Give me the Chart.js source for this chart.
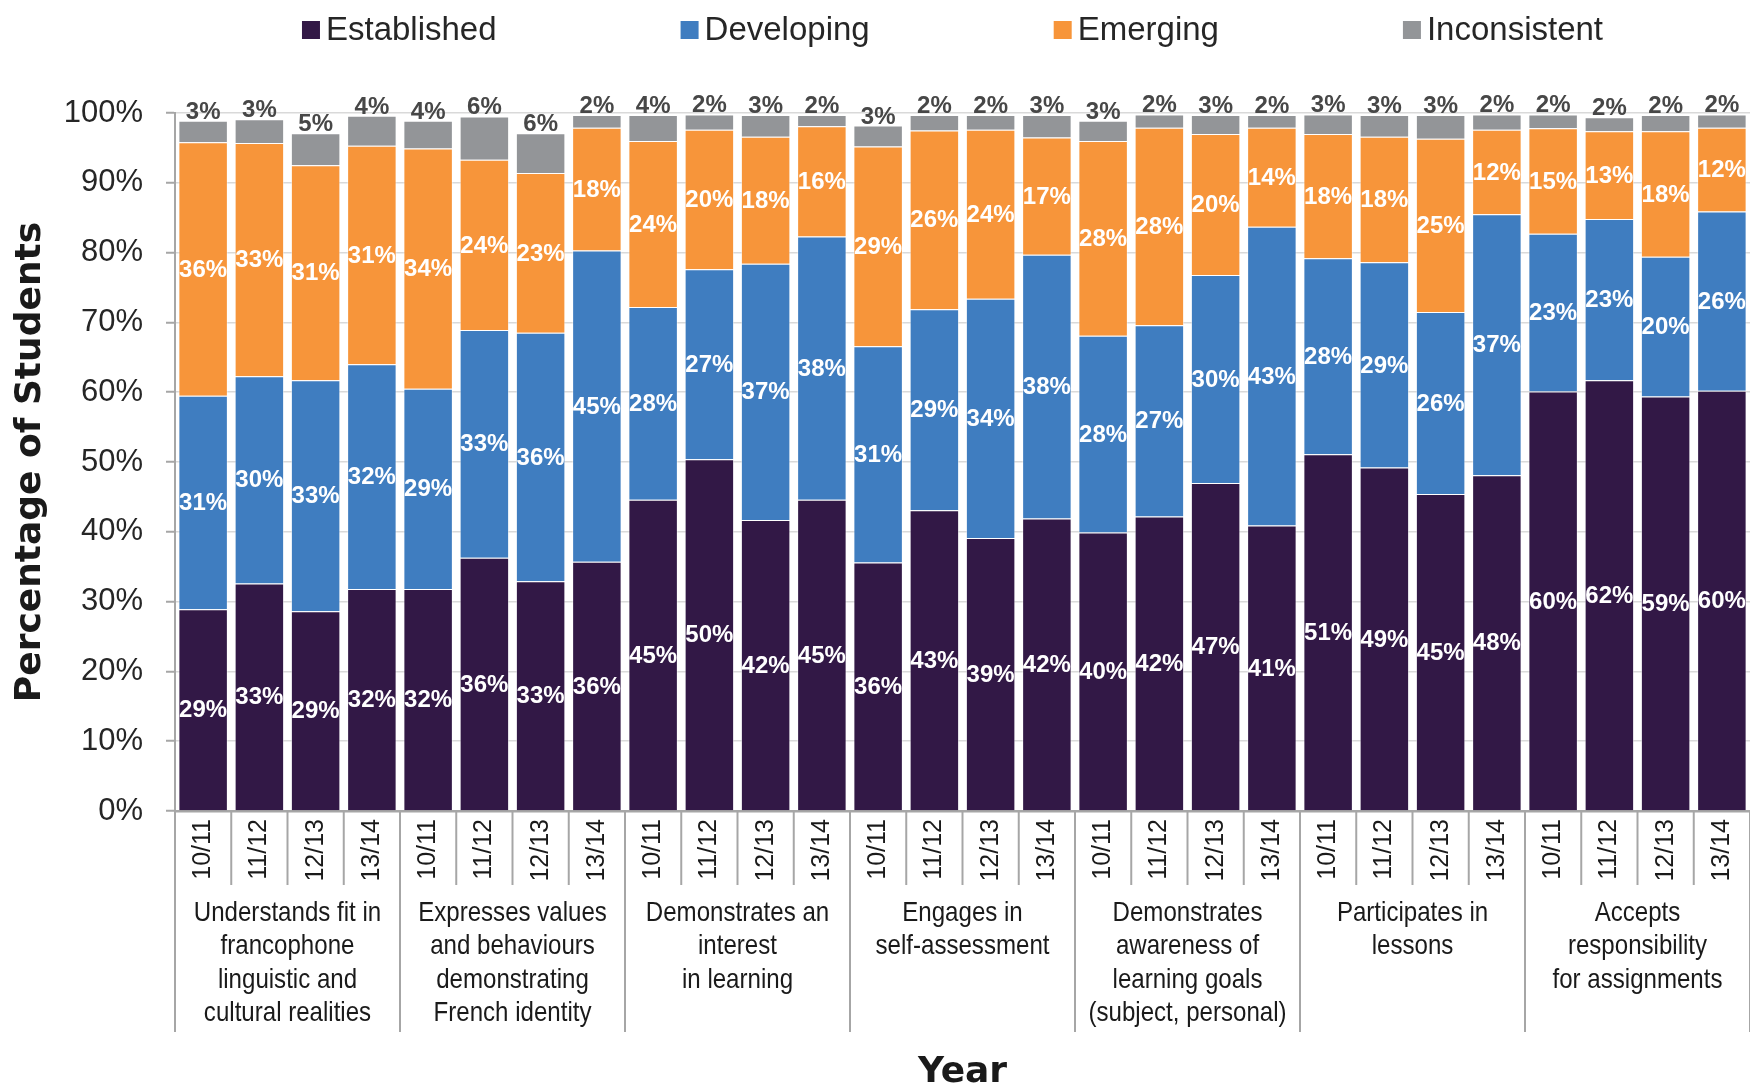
<!DOCTYPE html>
<html>
<head>
<meta charset="utf-8">
<script src="https://cdn.jsdelivr.net/npm/chart.js@4.4.0/dist/chart.umd.min.js"></script>
<style>
  html, body { margin: 0; padding: 0; background: #fff; }
  #wrap { width: 1750px; height: 1085px; }
</style>
</head>
<body>
<div id="wrap"><canvas id="chart" width="1750" height="1085"></canvas></div>
<script>
const years = ["10/11", "11/12", "12/13", "13/14"];
const groups = [
  ["Understands fit in", "francophone", "linguistic and", "cultural realities"],
  ["Expresses values", "and behaviours", "demonstrating", "French identity"],
  ["Demonstrates an", "interest", "in learning"],
  ["Engages in", "self-assessment"],
  ["Demonstrates", "awareness of", "learning goals", "(subject, personal)"],
  ["Participates in", "lessons"],
  ["Accepts", "responsibility", "for assignments"]
];
const seriesNames = ["Established", "Developing", "Emerging", "Inconsistent"];
const seriesColors = ["#321846", "#3f7dc0", "#f7953a", "#939598"];

// percentages, 4 years per group
const established = [28.9, 32.6, 28.6, 31.8, 31.8, 36.3, 32.9, 35.7, 44.6, 50.4, 41.7, 44.6, 35.6, 43.1,
  39.1, 41.9, 39.9, 42.2, 47.0, 40.9, 51.1, 49.2, 45.4, 48.1, 60.1, 61.7, 59.4, 60.2];
const developing = [30.6, 29.7, 33.1, 32.2, 28.7, 32.6, 35.6, 44.6, 27.6, 27.2, 36.7, 37.7, 31.0, 28.8,
  34.3, 37.8, 28.2, 27.4, 29.8, 42.8, 28.1, 29.4, 26.1, 37.4, 22.6, 23.1, 20.0, 25.7];
const emerging = [36.3, 33.4, 30.8, 31.3, 34.4, 24.4, 22.9, 17.6, 23.8, 20.0, 18.2, 15.8, 28.6, 25.6,
  24.2, 16.8, 27.9, 28.3, 20.2, 14.2, 17.8, 18.0, 24.8, 12.1, 15.1, 12.6, 18.0, 12.0];
const inconsistent = [3.1, 3.4, 4.6, 4.3, 4.0, 6.2, 5.7, 1.8, 3.7, 2.2, 3.1, 1.6, 3.0, 2.2,
  2.1, 3.2, 2.9, 1.9, 2.7, 1.8, 2.8, 3.1, 3.4, 2.2, 2.0, 2.0, 2.3, 1.9];
const yTicks = [0, 10, 20, 30, 40, 50, 60, 70, 80, 90, 100];

const labels = [];
groups.forEach(() => years.forEach(y => labels.push(y)));
const values = [established, developing, emerging, inconsistent];

const FONT = "'Liberation Sans', Arial, sans-serif";
const TITLE_FONT = "'DejaVu Sans', Verdana, sans-serif";

const valueLabels = {
  id: "valueLabels",
  afterDatasetsDraw(chart) {
    const ctx = chart.ctx;
    ctx.save();
    ctx.font = "bold 24px " + FONT;
    ctx.textAlign = "center";
    chart.data.datasets.forEach((ds, d) => {
      const meta = chart.getDatasetMeta(d);
      meta.data.forEach((el, i) => {
        const txt = Math.round(ds.data[i]) + "%";
        if (d < 3) {
          ctx.fillStyle = "#ffffff";
          ctx.textBaseline = "middle";
          ctx.fillText(txt, el.x, (el.y + el.base) / 2 + 1);
        } else {
          ctx.fillStyle = "#474747";
          ctx.textBaseline = "alphabetic";
          ctx.fillText(txt, el.x, el.y - 2);
        }
      });
    });
    ctx.restore();
  }
};

const groupAxis = {
  id: "groupAxis",
  afterDraw(chart) {
    const ctx = chart.ctx;
    const x = chart.scales.x;
    const bottom = chart.chartArea.bottom;
    const catW = x.getPixelForValue(1) - x.getPixelForValue(0);
    ctx.save();
    ctx.strokeStyle = "#a6a6a6";
    ctx.lineWidth = 2;
    for (let i = 0; i <= labels.length; i++) {
      const bx = x.getPixelForValue(Math.min(i, labels.length - 1)) + (i === labels.length ? catW / 2 : -catW / 2);
      const len = i % years.length === 0 ? 221 : 74;
      ctx.beginPath();
      ctx.moveTo(bx, bottom);
      ctx.lineTo(bx, bottom + len);
      ctx.stroke();
    }
    ctx.fillStyle = "#1a1a1a";
    ctx.font = "28px " + FONT;
    ctx.textAlign = "center";
    ctx.textBaseline = "middle";
    groups.forEach((lines, g) => {
      const cx = (x.getPixelForValue(g * 4) + x.getPixelForValue(g * 4 + 3)) / 2;
      lines.forEach((ln, k) => {
        ctx.save();
        ctx.translate(cx, bottom + 102 + k * 33.5);
        ctx.scale(0.86, 1);
        ctx.fillText(ln, 0, 0);
        ctx.restore();
      });
    });
    ctx.restore();
  }
};

const topLegend = {
  id: "topLegend",
  afterDraw(chart) {
    const ctx = chart.ctx;
    const box = 18, gap = 6, spacing = 184;
    ctx.save();
    ctx.font = "33px " + FONT;
    const widths = seriesNames.map(n => box + gap + ctx.measureText(n).width);
    const total = widths.reduce((a, b) => a + b, 0) + spacing * (seriesNames.length - 1);
    let xx = (chart.chartArea.left + chart.chartArea.right) / 2 - 10 - total / 2;
    const yy = 30;
    ctx.textBaseline = "middle";
    ctx.textAlign = "left";
    seriesNames.forEach((n, i) => {
      ctx.fillStyle = seriesColors[i];
      ctx.fillRect(xx, yy - box / 2, box, box);
      ctx.fillStyle = "#262626";
      ctx.fillText(n, xx + box + gap, yy + 1);
      xx += widths[i] + spacing;
    });
    ctx.restore();
  }
};

new Chart(document.getElementById("chart"), {
  type: "bar",
  data: {
    labels: labels,
    datasets: seriesNames.map((n, i) => ({
      label: n,
      data: values[i],
      backgroundColor: seriesColors[i],
      borderColor: "rgba(255,255,255,0.45)",
      borderWidth: 1,
      barPercentage: 0.88,
      categoryPercentage: 1
    }))
  },
  options: {
    responsive: false,
    animation: false,
    devicePixelRatio: 1,
    layout: { padding: { top: 113, right: 0, left: 0, bottom: 0 } },
    plugins: {
      legend: { display: false },
      tooltip: { enabled: false }
    },
    scales: {
      x: {
        stacked: true,
        afterFit(scale) {
          scale.height = 274;
          scale.paddingLeft = 0;
          scale.paddingRight = 0;
        },
        grid: { display: true, drawOnChartArea: false, drawTicks: false },
        border: { display: true, color: "#a6a6a6", width: 2.5 },
        ticks: {
          autoSkip: false,
          minRotation: 90,
          maxRotation: 90,
          padding: 8,
          color: "#1a1a1a",
          font: { family: FONT, size: 25 }
        },
        title: {
          display: true,
          text: "Year",
          color: "#1a1a1a",
          font: { family: TITLE_FONT, size: 36, weight: "bold", lineHeight: 0.67 },
          padding: { top: 0, bottom: 0 }
        }
      },
      y: {
        stacked: true,
        min: 0,
        max: 100,
        afterFit(scale) { scale.width = 175; },
        afterBuildTicks(scale) { scale.ticks = yTicks.map(v => ({ value: v })); },
        grid: { color: "#d9d9d9", lineWidth: 1.5, tickLength: 9, tickColor: "#a6a6a6", tickWidth: 2 },
        border: { display: true, color: "#a6a6a6", width: 2 },
        ticks: {
          padding: 23,
          color: "#262626",
          font: { family: FONT, size: 31 },
          callback: v => v + "%"
        },
        title: {
          display: true,
          text: "Percentage of Students",
          color: "#1a1a1a",
          font: { family: TITLE_FONT, size: 36, weight: "bold", lineHeight: 1 },
          padding: { top: 13, bottom: 0 }
        }
      }
    }
  },
  plugins: [valueLabels, groupAxis, topLegend]
});
</script>
</body>
</html>
